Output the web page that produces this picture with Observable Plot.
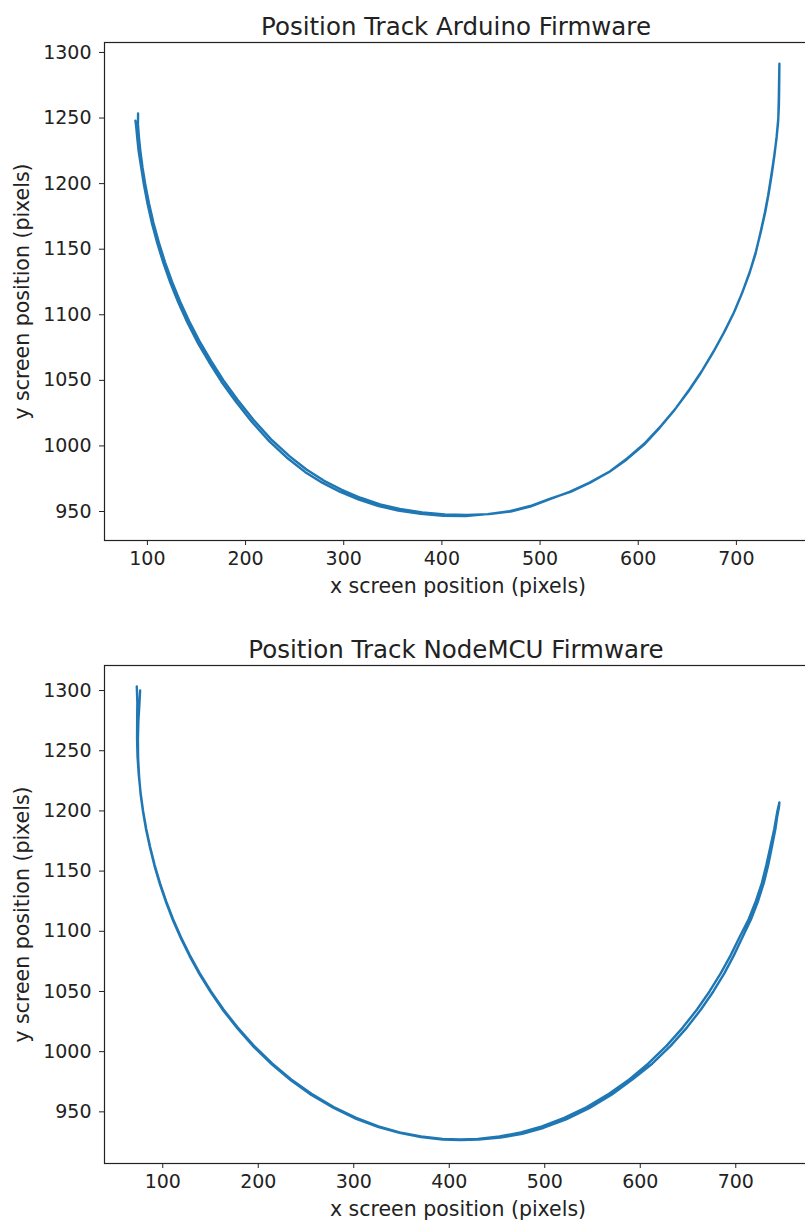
<!DOCTYPE html>
<html><head><meta charset="utf-8">
<script src="https://cdn.jsdelivr.net/npm/d3@7"></script>
<script src="https://cdn.jsdelivr.net/npm/@observablehq/plot@0.6"></script>
<style>
html,body{margin:0;padding:0;background:#fff;overflow:hidden;width:805px;height:1222px}
#chart{width:812px}
#chart svg{display:block;max-width:none !important}
</style></head><body><div id="chart"></div>
<script>
const titles = ["Position Track Arduino Firmware", "Position Track NodeMCU Firmware"];
const xLabel = "x screen position (pixels)";
const yLabel = "y screen position (pixels)";
const xTicks = [100, 200, 300, 400, 500, 600, 700];
const yTicks = [950, 1000, 1050, 1100, 1150, 1200, 1250, 1300];

// Arduino firmware track: [x, y] samples (two passes: left -> right -> left)
const arduinoTrack = [
  [90.5,1253.5],[90.4,1245],[91.4,1235],[92.8,1225],[95.1,1212],[97.7,1200],[101.6,1185],[106.2,1170],
  [111.7,1155],[118,1140],[125.2,1125],[133.4,1110],[142.6,1095],[153,1080],[164.7,1065],[177.5,1050],
  [192,1035],[208,1020],[226,1005],[245,992],[262,982],[280,973.5],[298,966.5],[317,960.5],[337,955.5],
  [357,952],[380,949.3],[403,947.8],[425,947.3],[448,948],[470,950],[490,953.8],[510,959.5],[530,965],
  [550,971.8],[570,980],[588,989.5],[606,1001],[622,1014],[637,1027.5],[651,1041.5],[664,1056],[676,1071],
  [687,1086],[697,1101],[705.5,1116],[713,1131],[719.3,1146],[724,1161],[728.5,1176],[732.3,1191],
  [735.5,1206],[738.3,1220],[740.8,1234],[742.5,1247],[743.3,1260],[743.6,1275],[743.8,1291.5],
  [743.5,1280],[743.2,1265],[742.7,1250],[741,1236],[738.8,1222],[736.2,1208],[733,1193],[729.3,1178],
  [724.8,1163],[719.8,1148],[713.8,1133],[706.5,1118],[698.3,1103],[688.5,1088],[677.5,1073],[665.5,1058],
  [652.5,1043.5],[638.5,1029],[623.5,1015.5],[607.3,1002.5],[589.3,990.8],[571,980.5],[551,972],[531,965],
  [510.5,959.8],[490,954.2],[469,950.2],[446.5,948],[424,946.5],[401.5,946.8],[378.5,948.2],[355.5,950.8],
  [335.5,954.2],[315.5,959],[296.5,964.9],[278.5,971.8],[260.5,980.2],[243.5,990.2],[224.3,1003.4],
  [206.3,1018.5],[190.2,1033.7],[175.6,1048.8],[162.8,1064],[151,1079],[140.6,1094.3],[131.4,1109.5],
  [123.3,1124.6],[116.2,1139.7],[110,1154.8],[104.6,1169.8],[100.1,1184.8],[96.3,1199.8],[93.8,1211.8],
  [91.2,1224],[89.8,1234],[88.6,1243.5],[87.8,1248]
];

// NodeMCU firmware track: [x, y] samples (two passes: left -> right -> left)
const nodeTrack = [
  [72.8,1303.3],[73.4,1290],[73.2,1275],[73.1,1260],[73.6,1245],[74.9,1230],[76.8,1215],[79.4,1200],
  [82.7,1185],[86.8,1170],[91.5,1155],[97.1,1140],[103.5,1125],[110.8,1110],[119.1,1095],[128.4,1080],
  [138.8,1065],[150.5,1050],[163.6,1035],[178.5,1020],[195.3,1005],[214.8,990],[234.5,977],[255.7,965],
  [279,954],[302.6,945],[325.9,938],[348,933],[370.4,929.5],[393.1,927.5],[411.5,927],[429.9,927.5],
  [452.6,929.5],[475,933],[497.1,938],[520.4,945],[544,954],[567.3,965],[588.5,977],[608.2,990],
  [627.7,1005],[644.5,1020],[659.4,1035],[672.5,1050],[684.2,1065],[694.6,1080],[703.9,1095],[713.5,1110],
  [721,1125],[727.3,1140],[732,1155],[736.2,1170],[740.3,1185],[743.6,1200],[745.7,1207],
  [745.2,1203],[743.3,1195],[741.5,1185],[737.8,1170],[734,1155],[729.3,1140],[723.3,1125],[716,1110],
  [707,1095],[698,1080],[688,1065],[676.5,1050],[663.5,1035],[648.8,1020],[632,1005],[612.5,990],
  [592,977],[570.3,964.5],[546.5,953],[522.3,943.8],[499,936.8],[476.5,931.8],[453.5,928.6],[430.5,927],
  [411.5,926.6],[393,927],[370.4,929],[348,932.5],[326,937.3],[302.6,944.2],[279,953.2],[255.7,964],
  [234.5,976],[214.8,989],[195.3,1004],[178.5,1019],[163.6,1034],[150.5,1049],[138.8,1064],[128.4,1079],
  [119.1,1094],[110.8,1109],[103.5,1124],[97.1,1139],[91.5,1154],[86.8,1169],[82.7,1184],[79.4,1199],
  [76.8,1214],[75.2,1229],[74.2,1244],[74,1260],[74.5,1275],[75.5,1288],[76.3,1300]
];

function makePlot(title, track, xDomain, yDomain, height, marginTop, marginBottom) {
  const data = track.map(([x, y]) => ({x, y}));
  return Plot.plot({
    width: 812, height, marginLeft: 104, marginRight: 1, marginTop, marginBottom,
    style: {fontFamily: "'DejaVu Sans', sans-serif", fontSize: "19px", color: "#222", background: "#fff", maxWidth: "none"},
    x: {domain: xDomain},
    y: {domain: yDomain},
    marks: [
      Plot.axisX({ticks: xTicks, tickSize: 5, tickPadding: 6, label: null, tickFormat: d => String(d), fontSize: 19}),
      Plot.axisY({ticks: yTicks, tickSize: 5, tickPadding: 8, label: null, tickFormat: d => String(d), fontSize: 19}),
      Plot.line(data, {x: "x", y: "y", stroke: "#1f77b4", strokeWidth: 2.4}),
      Plot.frame({stroke: "#222", strokeWidth: 1.2}),
      Plot.text([title], {frameAnchor: "top", lineAnchor: "middle", dy: -15.5, dx: -2, fontSize: 24.5, fill: "#222"}),
      Plot.text([xLabel], {frameAnchor: "bottom", lineAnchor: "middle", dy: 46, fontSize: 20.5, fill: "#222"}),
      Plot.text([yLabel], {frameAnchor: "left", textAnchor: "middle", lineAnchor: "middle", dx: -82, rotate: -90, fontSize: 20.5, fill: "#222"})
    ]
  });
}

const root = document.getElementById("chart");
root.append(makePlot(titles[0], arduinoTrack, [56.3, 776.5], [927.9, 1307.6], 600, 42, 60));
root.append(makePlot(titles[1], nodeTrack, [39.0, 779.3], [907.1, 1320.8], 622, 65, 59));
</script>
</body></html>
